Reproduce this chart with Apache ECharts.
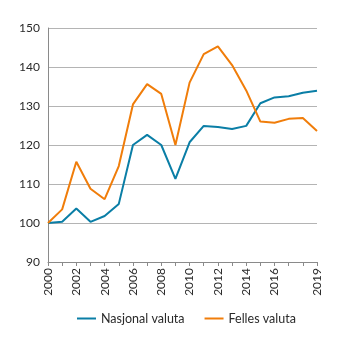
<!DOCTYPE html>
<html><head><meta charset="utf-8">
<script src="https://cdn.jsdelivr.net/npm/echarts@6/dist/echarts.min.js"></script>
<style>html,body{margin:0;padding:0;background:#fff}#c{width:345px;height:341px}</style>
</head><body><div id="c"></div>
<script>
const years = ['2000','2001','2002','2003','2004','2005','2006','2007','2008','2009','2010','2011','2012','2013','2014','2015','2016','2017','2018','2019'];
const shownYears = ['2000','2002','2004','2006','2008','2010','2012','2014','2016','2019'];
const nasjonal = [100,100.3,103.7,100.3,101.8,104.9,120.0,122.6,120.0,111.3,120.7,124.9,124.6,124.1,124.9,130.7,132.2,132.5,133.4,133.9];
const felles = [100,103.5,115.7,108.8,106.1,114.6,130.4,135.6,133.1,120.0,136.0,143.3,145.3,140.5,134.0,126.0,125.7,126.7,126.9,123.6];
const seriesNames = ['Nasjonal valuta','Felles valuta'];
const colors = ['#0a7ea6','#f07d0a'];
const font = 'Lato';
const chart = echarts.init(document.getElementById('c'), null, {renderer:'canvas'});
chart.setOption({
  animation:false,
  textStyle:{fontFamily:font},
  grid:{left:48,right:28,top:28,bottom:79,containLabel:false},
  legend:{top:307,left:72,itemWidth:19,itemHeight:2,itemGap:20,icon:'rect',
    textStyle:{fontFamily:font,fontSize:12.5,color:'#2a2a2a',padding:[0,0,0,0]},data:seriesNames},
  xAxis:{type:'category',data:years,boundaryGap:false,
    axisLine:{lineStyle:{color:'#8a8a8a',width:1}},
    axisTick:{show:true,interval:0,length:4,lineStyle:{color:'#8a8a8a'}},
    axisLabel:{rotate:90,fontSize:12,color:'#2a2a2a',margin:6,
      interval:(i,v)=>shownYears.indexOf(v)>=0},
    splitLine:{show:false}},
  yAxis:{type:'value',min:90,max:150,interval:10,
    axisLine:{show:true,lineStyle:{color:'#8a8a8a'}},
    axisTick:{show:false},
    axisLabel:{fontSize:12,color:'#2a2a2a',margin:8},
    splitLine:{lineStyle:{color:'#b4b4b4',width:1}}},
  series:[
    {name:seriesNames[0],type:'line',data:nasjonal,symbol:'none',lineStyle:{color:colors[0],width:2},itemStyle:{color:colors[0]}},
    {name:seriesNames[1],type:'line',data:felles,symbol:'none',lineStyle:{color:colors[1],width:2},itemStyle:{color:colors[1]}}
  ]
});
</script></body></html>
